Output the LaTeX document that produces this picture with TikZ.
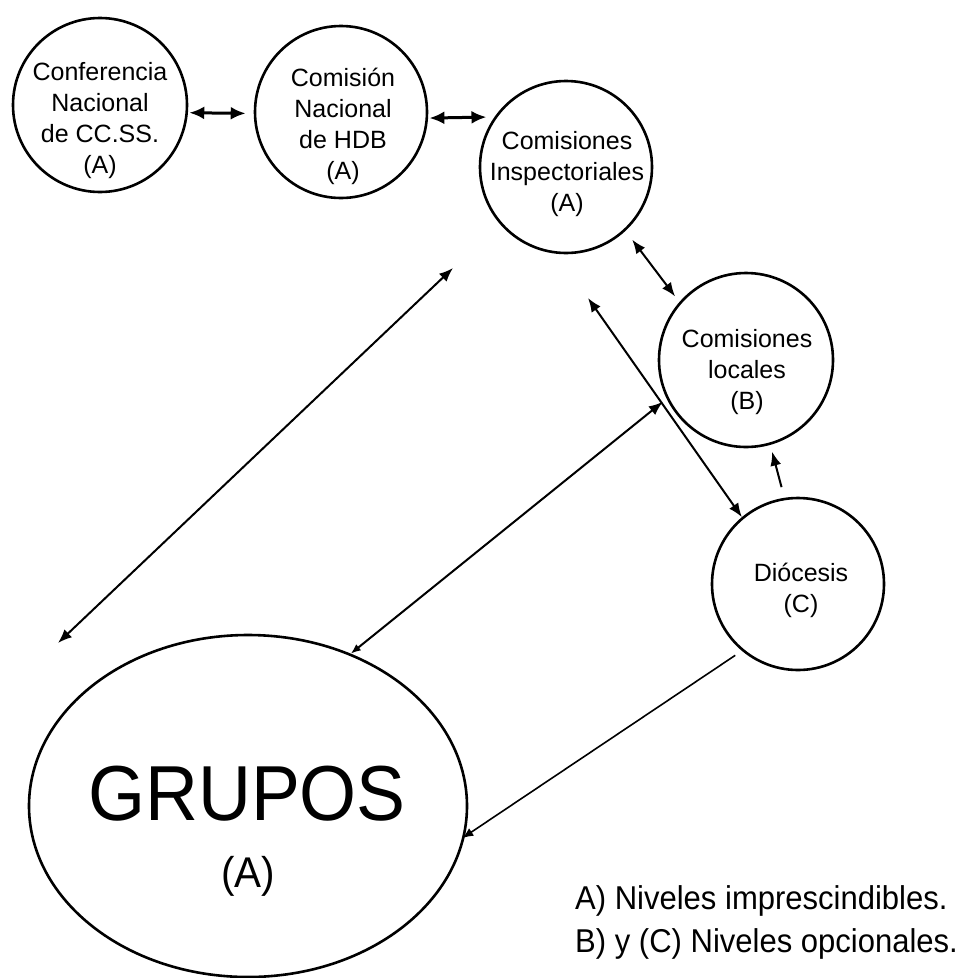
\documentclass[tikz,border=0pt]{standalone}
\usepackage{fontspec}
\setmainfont{Liberation Sans}
\newfontfamily\narrowsans[FakeStretch=0.94]{Liberation Sans}
\usetikzlibrary{arrows.meta,calc,shapes.geometric}
\tikzset{
  circ/.style={draw, circle, line width=2.6pt, minimum size=174pt, inner sep=0pt},
  lbl/.style={align=center, inner sep=0pt, anchor=north, font=\fontsize{25}{31}\selectfont},
  conn/.style={line width=2pt},
  bigconn/.style={line width=3pt, arrows={Latex[length=15pt,width=13pt]-Latex[length=15pt,width=13pt]}},
  both/.style={conn, arrows={Latex[length=14pt,width=11pt]-Latex[length=14pt,width=11pt]}},
  legend/.style={inner sep=0pt, anchor=base west, font=\narrowsans\fontsize{33}{40}\selectfont}
}
\begin{document}
\begin{tikzpicture}[x=1pt,y=-1pt]
\useasboundingbox[fill=white] (0,0) rectangle (964,978);
% circles
\node[circ] (c1) at (100,105) {};
\node[circ, minimum size=172pt] (c2) at (341,112) {};
\node[circ, minimum size=172pt] (c3) at (566,167) {};
\node[circ] (c4) at (746,360) {};
\node[circ, minimum size=172pt] (c5) at (798,584) {};
\node[draw, ellipse, line width=2.6pt, minimum width=438pt, minimum height=342pt, inner sep=0pt] (g) at (248,806) {};
% texts
\node[lbl] (t1) at (100,62.5) {Conferencia\\Nacional\\de CC.SS.\\(A)};
\node[lbl] (t2) at (343,67.5) {Comisión\\Nacional\\de HDB\\(A)};
\node[lbl] (t3) at (567,131.5) {Comisiones\\Inspectoriales\\(A)};
\node[lbl] (t4) at (747,329.5) {Comisiones\\locales\\(B)};
\node[lbl] (t5) at (801,563) {Diócesis\\(C)};
\node[inner sep=0pt, anchor=base, font=\narrowsans\fontsize{78}{90}\selectfont] (gt) at (247,820) {GRUPOS};
\node[inner sep=0pt, anchor=base, font=\narrowsans\fontsize{43}{50}\selectfont] (ga) at (248,887) {(A)};
% free ends
\coordinate (p1) at (58,643);
\coordinate (p2) at (453,268);
\coordinate (p3) at (588,298);
% connectors
\draw[bigconn, shorten <=1.3pt, shorten >=8pt] (c1.-5) -- (c2.181);
\draw[bigconn, shorten <=1.3pt, shorten >=8pt] (c2.-4) -- (c3.145);
\draw[both, shorten <=11pt, shorten >=7pt] (c3.-47) -- (c4.139);
\draw[both] (p1) -- (p2);
\draw[conn, arrows={Latex[length=10pt,width=8pt]-Latex[length=14pt,width=11pt]}, shorten >=5pt] (g.56) -- (c4.206);
\draw[both] (p3) -- (c5.130);
\draw[conn, arrows={-Latex[length=14pt,width=11pt]}, shorten <=11pt, shorten >=7pt] (c5.99) -- (c4.-74);
\draw[conn, line width=1.6pt, arrows={-Latex[length=11pt,width=9pt]}, shorten <=8pt, shorten >=-3pt] (c5.230) -- (g.-8);
% legend
\node[legend] (l1) at (575,909) {A) Niveles imprescindibles.};
\node[legend] (l2) at (575,952) {B) y (C) Niveles opcionales.};
\end{tikzpicture}
\end{document}
